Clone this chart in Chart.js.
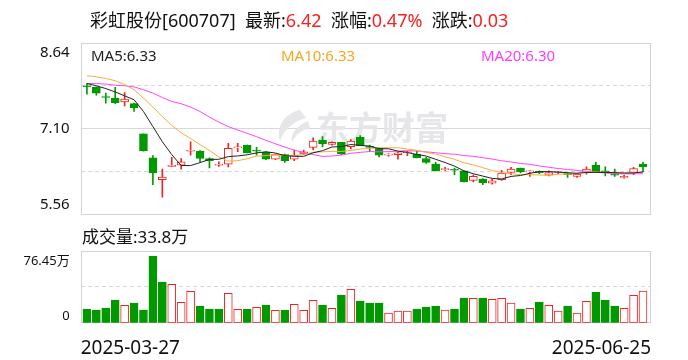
<!DOCTYPE html>
<html>
<head>
<meta charset="utf-8">
<script src="https://cdn.jsdelivr.net/npm/chart.js@4.4.1/dist/chart.umd.min.js"></script>
<style>
  body { margin: 0; background: #fff; }
  #wrap { position: relative; width: 688px; height: 360px; overflow: hidden;
          font-family: "Noto Sans", "Noto Sans CJK SC", sans-serif; color: #111; }
  canvas { position: absolute; left: 0; top: 0; }
  .t { position: absolute; white-space: nowrap; line-height: 1; }
  .red { color: #f52222; }
</style>
</head>
<body>
<div id="wrap">
  <canvas id="kline" width="688" height="360"></canvas>
  <canvas id="vol" width="688" height="360"></canvas>
  <div class="t" id="head" style="left:90px;top:11px;font-size:18px"></div>
  <div class="t" id="ma5" style="left:91px;top:48px;font-size:15px;color:#222"></div>
  <div class="t" id="ma10" style="left:281px;top:48px;font-size:15px;color:#f5a623"></div>
  <div class="t" id="ma20" style="left:481px;top:48px;font-size:15px;color:#ff3cff"></div>
  <div class="t" id="volTitle" style="left:82px;top:228px;font-size:17px"></div>
</div>
<script>
// quote header
const stockName = '彩虹股份[600707]';
const lastPrice = '6.42';
const changePct = '0.47%';
const changeAmt = '0.03';
const maLegend = ['MA5:6.33', 'MA10:6.33', 'MA20:6.30'];
const volLegend = '成交量:33.8万';

// x tick labels (first and last trading day)
const dateLabels = ['2025-03-27', '2025-06-25'];
const priceLabels = ['8.64', '7.10', '5.56'];
const volLabels = ['76.45万', '0'];

// daily candles, 60 sessions
const opens  = [7.86,7.84,7.67,7.65,7.58,7.55,7.01,6.58,6.19,6.43,
                6.45,6.70,6.70,6.57,6.45,6.47,6.76,6.81,6.71,6.68,
                6.56,6.64,6.56,6.65,6.77,6.90,6.82,6.86,6.78,6.95,
                6.78,6.75,6.63,6.64,6.67,6.65,6.57,6.47,6.37,6.37,
                6.35,6.18,6.20,6.13,6.19,6.32,6.40,6.33,6.34,6.27,
                6.32,6.30,6.25,6.32,6.45,6.35,6.29,6.23,6.32,6.47];
const highs  = [7.91,7.85,7.74,7.84,7.75,7.56,7.01,6.62,6.38,6.59,
                6.57,6.87,6.71,6.58,6.51,6.84,6.84,6.81,6.77,6.69,
                6.65,6.65,6.72,6.72,6.94,6.96,6.87,6.86,6.91,6.98,
                6.81,6.76,6.66,6.68,6.70,6.70,6.59,6.50,6.41,6.40,
                6.35,6.28,6.21,6.20,6.36,6.41,6.40,6.35,6.35,6.35,
                6.34,6.32,6.30,6.42,6.50,6.42,6.38,6.27,6.41,6.50];
const lows   = [7.72,7.70,7.56,7.55,7.51,7.41,6.70,6.10,5.88,6.43,
                6.38,6.63,6.51,6.40,6.43,6.42,6.69,6.67,6.63,6.55,
                6.55,6.50,6.53,6.64,6.73,6.78,6.81,6.64,6.74,6.80,
                6.69,6.60,6.61,6.56,6.62,6.58,6.48,6.35,6.35,6.28,
                6.15,6.15,6.10,6.11,6.18,6.28,6.31,6.25,6.30,6.26,
                6.30,6.23,6.23,6.29,6.32,6.26,6.25,6.22,6.28,6.33];
const closes = [7.85,7.74,7.66,7.57,7.63,7.48,6.71,6.31,6.24,6.45,
                6.51,6.71,6.57,6.53,6.46,6.75,6.77,6.67,6.70,6.56,
                6.64,6.53,6.62,6.69,6.88,6.83,6.86,6.65,6.88,6.80,
                6.77,6.63,6.64,6.67,6.68,6.58,6.50,6.35,6.38,6.36,
                6.15,6.25,6.14,6.17,6.31,6.38,6.33,6.34,6.31,6.32,
                6.33,6.28,6.29,6.38,6.33,6.32,6.27,6.25,6.39,6.42];

// moving averages as shown on the chart
const ma5  = [7.91,7.87,7.82,7.76,7.69,7.62,7.41,7.14,6.87,6.64,
              6.444,6.444,6.496,6.554,6.556,6.604,6.616,6.636,6.670,6.690,
              6.668,6.620,6.610,6.608,6.672,6.710,6.776,6.782,6.820,6.804,
              6.792,6.746,6.744,6.702,6.678,6.640,6.614,6.556,6.498,6.434,
              6.348,6.298,6.256,6.214,6.204,6.250,6.266,6.306,6.334,6.336,
              6.326,6.316,6.306,6.320,6.322,6.320,6.318,6.310,6.312,6.330];
const ma10 = [8.05,8.03,8.00,7.96,7.89,7.80,7.65,7.49,7.32,7.164,
              7.030,6.927,6.818,6.714,6.597,6.524,6.530,6.566,6.612,6.623,
              6.636,6.618,6.623,6.639,6.681,6.689,6.698,6.696,6.714,6.738,
              6.751,6.761,6.763,6.761,6.741,6.716,6.680,6.650,6.600,6.556,
              6.494,6.456,6.406,6.356,6.319,6.299,6.282,6.281,6.274,6.270,
              6.288,6.291,6.306,6.327,6.329,6.323,6.317,6.308,6.316,6.326];
const ma20 = [7.91,7.91,7.90,7.88,7.87,7.85,7.80,7.74,7.66,7.59,
              7.55,7.49,7.41,7.31,7.22,7.14,7.08,7.02,6.96,6.894,
              6.833,6.773,6.720,6.677,6.639,6.607,6.614,6.631,6.663,6.680,
              6.694,6.690,6.693,6.700,6.711,6.703,6.689,6.673,6.657,6.647,
              6.623,6.609,6.585,6.559,6.530,6.508,6.481,6.466,6.437,6.413,
              6.391,6.374,6.356,6.342,6.324,6.311,6.300,6.295,6.295,6.298];

// volume in 万 shares, and whether the bar is drawn as an up day
const volumes = [14.6,13.5,15.6,24.2,18.5,21.0,13.5,71.1,43.4,40.9,
                 21.7,33.4,17.8,14.6,14.6,31.3,14.2,14.6,16.3,18.8,
                 13.2,13.5,19.5,13.2,23.8,18.8,15.3,29.5,35.5,23.1,
                 21.0,21.0,10.3,12.4,12.4,14.6,16.7,17.8,13.5,14.6,
                 26.3,25.9,26.3,24.9,25.9,21.0,14.6,15.3,22.0,18.5,
                 12.4,17.8,10.3,22.7,32.7,24.2,17.8,15.3,29.1,33.8];
const volUp = [0,0,0,0,1,0,0,0,0,1, 1,1,0,0,0,1,1,0,1,0,
               1,0,1,1,1,0,1,0,1,0, 0,0,1,1,1,0,0,0,1,0,
               0,1,0,1,1,1,0,1,0,1, 1,0,1,1,0,0,0,1,1,1];

const RED = '#f02424';
const GREEN = '#009a00';
const GRID = '#d8d8dc';
const FONT = '"Noto Sans", "Noto Sans CJK SC", sans-serif';
const X_MIN = -0.66, X_MAX = 59.85;

document.getElementById('head').innerHTML = stockName + '&nbsp; 最新:<span class="red">' + lastPrice +
  '</span>&nbsp; 涨幅:<span class="red">' + changePct + '</span>&nbsp; 涨跌:<span class="red">' + changeAmt + '</span>';
document.getElementById('ma5').textContent = maLegend[0];
document.getElementById('ma10').textContent = maLegend[1];
document.getElementById('ma20').textContent = maLegend[2];
document.getElementById('volTitle').textContent = volLegend;

const idx = closes.map((c, i) => i);
const candleUp = i => closes[i] >= opens[i];

const frame = {
  id: 'frame',
  beforeDatasetsDraw(chart) {
    const a = chart.chartArea, c = chart.ctx;
    c.save();
    c.strokeStyle = '#d2d2d8';
    c.lineWidth = 1;
    c.strokeRect(Math.round(a.left) + 0.5, Math.round(a.top) + 0.5,
                 Math.round(a.right - a.left) - 1, Math.round(a.bottom - a.top) - 1);
    c.restore();
  }
};

const watermark = {
  id: 'watermark',
  beforeDatasetsDraw(chart) {
    const c = chart.ctx;
    c.save();
    c.fillStyle = '#e6e6ea';
    c.font = 'bold 33px "Noto Sans CJK SC"';
    c.textBaseline = 'alphabetic';
    c.fillText('东方财富', 316, 140);
    // swoosh logo
    c.beginPath();
    c.moveTo(300, 110);
    c.bezierCurveTo(284, 114, 276, 126, 280, 141);
    c.bezierCurveTo(284, 130, 292, 122, 306, 118);
    c.closePath();
    c.fill();
    c.beginPath();
    c.moveTo(308, 121);
    c.bezierCurveTo(296, 126, 290, 134, 292, 142);
    c.bezierCurveTo(296, 134, 302, 130, 310, 128);
    c.closePath();
    c.fill();
    c.restore();
  }
};

function gridDash(mid) {
  return ctx => (ctx.tick && Math.abs(ctx.tick.value - mid) < 1e-6) ? [] : [4, 3];
}

new Chart(document.getElementById('kline'), {
  type: 'bar',
  data: {
    datasets: [
      {
        label: 'wick',
        data: idx.map(i => ({ x: i, y: [lows[i], highs[i]] })),
        backgroundColor: idx.map(i => candleUp(i) ? RED : GREEN),
        barThickness: 1,
        grouped: false,
        order: 4
      },
      {
        label: 'body',
        data: idx.map(i => ({ x: i, y: [opens[i], closes[i]] })),
        backgroundColor: idx.map(i => candleUp(i) ? '#ffffff' : GREEN),
        borderColor: idx.map(i => candleUp(i) ? RED : GREEN),
        borderWidth: 1,
        borderSkipped: false,
        barThickness: 8,
        minBarLength: 1,
        grouped: false,
        order: 3
      },
      { type: 'line', label: 'MA20', data: idx.map(i => ({ x: i, y: ma20[i] })), borderColor: '#ff44ff', borderWidth: 1, pointRadius: 0, order: 2 },
      { type: 'line', label: 'MA10', data: idx.map(i => ({ x: i, y: ma10[i] })), borderColor: '#f8ad35', borderWidth: 1, pointRadius: 0, order: 1 },
      { type: 'line', label: 'MA5', data: idx.map(i => ({ x: i, y: ma5[i] })), borderColor: '#222222', borderWidth: 1, pointRadius: 0, order: 0 }
    ]
  },
  options: {
    responsive: false,
    animation: false,
    events: [],
    layout: { padding: { top: 42.7, bottom: 145, right: 37, left: 0 } },
    plugins: { legend: { display: false }, tooltip: { enabled: false } },
    scales: {
      x: { type: 'linear', min: X_MIN, max: X_MAX, offset: false, display: false },
      y: {
        position: 'left', min: 5.56, max: 8.64,
        afterFit: s => { s.width = 0; },
        afterBuildTicks: s => { s.ticks = [6.33, 7.10, 7.87].map(v => ({ value: v })); },
        ticks: { display: false },
        grid: { color: GRID, drawTicks: false },
        border: { display: false, dash: gridDash(7.10) }
      },
      yl: {
        position: 'left', min: 5.56, max: 8.64,
        afterFit: s => { s.width = 80.7; },
        afterBuildTicks: s => { s.ticks = [8.46, 7.10, 5.74].map(v => ({ value: v })); },
        ticks: { callback: (v, i) => priceLabels[i], font: { family: FONT, size: 15 }, color: '#111', padding: 3 },
        grid: { display: false },
        border: { display: false }
      }
    }
  },
  plugins: [frame, watermark]
});

new Chart(document.getElementById('vol'), {
  type: 'bar',
  data: {
    datasets: [{
      label: 'volume',
      data: idx.map(i => ({ x: i, y: volumes[i] })),
      backgroundColor: idx.map(i => volUp[i] ? '#ffffff' : GREEN),
      borderColor: idx.map(i => volUp[i] ? RED : GREEN),
      borderWidth: 1,
      borderSkipped: false,
      barThickness: 8,
      grouped: false
    }]
  },
  options: {
    responsive: false,
    animation: false,
    events: [],
    layout: { padding: { top: 251, bottom: 0, right: 37, left: 0 } },
    plugins: { legend: { display: false }, tooltip: { enabled: false } },
    scales: {
      x: {
        type: 'linear', min: X_MIN, max: X_MAX, offset: false,
        afterFit: s => { s.height = 37.3; },
        afterBuildTicks: s => { s.ticks = [X_MIN, X_MAX].map(v => ({ value: v })); },
        ticks: { callback: (v, i) => dateLabels[i], align: 'inner', maxRotation: 0, autoSkip: false,
                 font: { family: FONT, size: 19 }, color: '#111', padding: 6 },
        grid: { display: false },
        border: { display: false }
      },
      y: {
        position: 'left', min: 0, max: 76.45,
        afterFit: s => { s.width = 0; },
        afterBuildTicks: s => { s.ticks = [{ value: 38.225 }]; },
        ticks: { display: false },
        grid: { color: GRID, drawTicks: false },
        border: { display: false, dash: [4, 3] }
      },
      yl: {
        position: 'left', min: 0, max: 76.45,
        afterFit: s => { s.width = 80.7; },
        afterBuildTicks: s => { s.ticks = [65.8, 7.1].map(v => ({ value: v })); },
        ticks: { callback: (v, i) => volLabels[i], font: { family: FONT, size: 13 }, color: '#111', padding: 3 },
        grid: { display: false },
        border: { display: false }
      }
    }
  },
  plugins: [frame]
});
</script>
</body>
</html>
